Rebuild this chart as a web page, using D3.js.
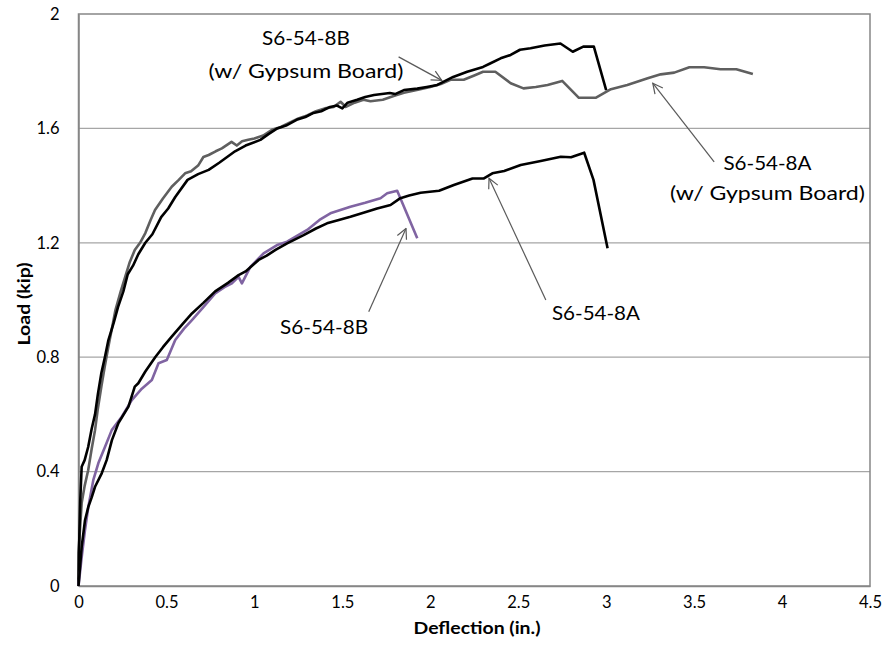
<!DOCTYPE html>
<html><head><meta charset="utf-8">
<script src="https://cdn.jsdelivr.net/npm/d3@7"></script>
<style>
body{margin:0;background:#fff;}
svg text{font-family:Lato,"Liberation Sans",sans-serif;fill:#000;}
</style></head>
<body><svg id="chart" width="888" height="663"></svg>
<script>
const xTicks=[0,0.5,1,1.5,2,2.5,3,3.5,4,4.5];
const yTicks=[0,0.4,0.8,1.2,1.6,2];
const xTitle="Deflection (in.)";
const yTitle="Load (kip)";

const seriesNames=["S6-54-8B (w/ Gypsum Board)","S6-54-8A (w/ Gypsum Board)","S6-54-8A","S6-54-8B"];
const seriesColors=["#000000","#5f5f5f","#000000","#8064a2"];

const s8BGypsum=[[0,0],[0.003,0.12],[0.005,0.18],[0.01,0.3],[0.018,0.417],[0.035,0.44],[0.055,0.486],[0.075,0.55],[0.094,0.6],[0.11,0.67],[0.13,0.745],[0.15,0.8],[0.17,0.86],[0.2,0.92],[0.225,0.976],[0.255,1.03],[0.28,1.09],[0.31,1.12],[0.34,1.16],[0.38,1.2],[0.42,1.23],[0.47,1.29],[0.51,1.32],[0.55,1.36],[0.62,1.42],[0.68,1.44],[0.74,1.455],[0.8,1.48],[0.89,1.52],[0.95,1.54],[1.034,1.56],[1.08,1.58],[1.13,1.6],[1.18,1.61],[1.24,1.63],[1.29,1.64],[1.336,1.654],[1.38,1.66],[1.43,1.675],[1.47,1.68],[1.5,1.67],[1.53,1.69],[1.584,1.7],[1.63,1.71],[1.68,1.717],[1.77,1.724],[1.8,1.72],[1.85,1.734],[1.926,1.739],[1.98,1.745],[2.04,1.752],[2.13,1.78],[2.21,1.798],[2.3,1.815],[2.34,1.827],[2.4,1.845],[2.457,1.857],[2.51,1.875],[2.57,1.88],[2.65,1.89],[2.74,1.897],[2.81,1.868],[2.87,1.886],[2.93,1.886],[3.0,1.734]];
const s8AGypsum=[[0,0],[0,0.115],[0.018,0.29],[0.035,0.35],[0.055,0.405],[0.075,0.48],[0.094,0.545],[0.11,0.62],[0.13,0.697],[0.15,0.77],[0.17,0.837],[0.19,0.9],[0.21,0.965],[0.24,1.03],[0.265,1.08],[0.29,1.13],[0.32,1.175],[0.35,1.2],[0.38,1.234],[0.41,1.28],[0.435,1.315],[0.48,1.355],[0.53,1.396],[0.57,1.42],[0.606,1.443],[0.64,1.45],[0.68,1.47],[0.71,1.5],[0.74,1.507],[0.78,1.52],[0.815,1.53],[0.87,1.553],[0.9,1.54],[0.93,1.555],[0.965,1.56],[1.0,1.565],[1.05,1.575],[1.1,1.595],[1.15,1.605],[1.2,1.62],[1.25,1.635],[1.3,1.645],[1.35,1.66],[1.4,1.67],[1.45,1.675],[1.49,1.693],[1.52,1.675],[1.57,1.69],[1.62,1.7],[1.66,1.695],[1.73,1.7],[1.8,1.715],[1.85,1.725],[1.93,1.735],[2.0,1.745],[2.06,1.755],[2.115,1.77],[2.19,1.77],[2.25,1.785],[2.3,1.798],[2.37,1.798],[2.457,1.758],[2.53,1.74],[2.6,1.745],[2.667,1.752],[2.75,1.766],[2.845,1.707],[2.94,1.707],[3.027,1.737],[3.12,1.752],[3.236,1.775],[3.31,1.789],[3.387,1.795],[3.473,1.814],[3.557,1.814],[3.65,1.807],[3.74,1.807],[3.834,1.79]];
const s8A=[[0,0],[0.018,0.137],[0.037,0.23],[0.056,0.277],[0.075,0.31],[0.094,0.347],[0.132,0.394],[0.16,0.44],[0.19,0.51],[0.227,0.57],[0.284,0.627],[0.32,0.697],[0.34,0.709],[0.38,0.75],[0.436,0.8],[0.48,0.835],[0.53,0.872],[0.59,0.915],[0.645,0.953],[0.71,0.99],[0.777,1.03],[0.85,1.06],[0.91,1.087],[0.95,1.1],[1.024,1.14],[1.07,1.155],[1.12,1.175],[1.186,1.198],[1.28,1.227],[1.35,1.25],[1.413,1.268],[1.48,1.28],[1.546,1.291],[1.62,1.305],[1.698,1.32],[1.774,1.332],[1.83,1.356],[1.88,1.365],[1.945,1.375],[2.05,1.382],[2.134,1.402],[2.24,1.425],[2.305,1.425],[2.353,1.443],[2.42,1.451],[2.514,1.472],[2.628,1.486],[2.742,1.501],[2.8,1.499],[2.875,1.515],[2.928,1.42],[3.008,1.181]];
const s8B=[[0,0],[0.018,0.1],[0.037,0.196],[0.056,0.277],[0.084,0.37],[0.113,0.43],[0.151,0.487],[0.189,0.545],[0.246,0.592],[0.303,0.65],[0.36,0.69],[0.417,0.72],[0.455,0.779],[0.502,0.79],[0.55,0.86],[0.6,0.9],[0.645,0.93],[0.71,0.975],[0.777,1.023],[0.83,1.045],[0.872,1.058],[0.91,1.081],[0.929,1.058],[0.977,1.116],[1.052,1.163],[1.129,1.192],[1.186,1.204],[1.3,1.245],[1.37,1.28],[1.432,1.303],[1.546,1.326],[1.63,1.34],[1.717,1.356],[1.755,1.373],[1.812,1.382],[1.926,1.216]];

// annotations: label lines, text anchor point (data), arrow tail & head (data)
const annLines=[["S6-54-8B","(w/ Gypsum Board)"],["S6-54-8A","(w/ Gypsum Board)"],["S6-54-8B"],["S6-54-8A"]];
const annText=[[1.293,1.8916],[3.917,1.4545],[1.396,0.881],[2.942,0.930]];
const annTail=[[1.82,1.85],[3.614,1.483],[1.65,0.959],[2.657,1.0]];
const annHead=[[2.065,1.768],[3.265,1.758],[1.862,1.25],[2.334,1.426]];

const L=78.5,R=870,T=14,B=586;
const x=d3.scaleLinear().domain([0,4.5]).range([L,R]);
const y=d3.scaleLinear().domain([0,2]).range([B,T]);
const svg=d3.select("#chart");

// gridlines
svg.append("g").selectAll("line").data(yTicks.filter(v=>v>0&&v<2)).join("line")
 .attr("x1",L).attr("x2",R).attr("y1",d=>y(d)).attr("y2",d=>y(d))
 .attr("stroke","#a6a6a6").attr("stroke-width",1.3);
// frame
svg.append("rect").attr("x",L).attr("y",T).attr("width",R-L).attr("height",B-T)
 .attr("fill","none").attr("stroke","#868686").attr("stroke-width",1.5);

const xAxis=svg.append("g").attr("transform",`translate(0,${B})`)
 .call(d3.axisBottom(x).tickValues(xTicks).tickSize(0).tickPadding(10).tickFormat(d=>String(d)));
xAxis.select(".domain").attr("stroke","#868686").attr("stroke-width",1.5);
xAxis.selectAll("text").attr("font-size","16.5px").attr("font-family","Lato,sans-serif").attr("fill","#000");
const yAxis=svg.append("g").attr("transform",`translate(${L},0)`)
 .call(d3.axisLeft(y).tickValues(yTicks).tickSize(0).tickPadding(19).tickFormat(d=>String(d)));
yAxis.select(".domain").attr("stroke","#868686").attr("stroke-width",1.5);
yAxis.selectAll("text").attr("font-size","16.5px").attr("font-family","Lato,sans-serif").attr("fill","#000");

svg.append("text").attr("x",477).attr("y",634).attr("text-anchor","middle")
 .attr("font-size","17px").attr("font-weight","bold").attr("textLength",127).attr("lengthAdjust","spacingAndGlyphs").text(xTitle);
svg.append("text").attr("transform",`translate(30,${(T+B)/2+4}) rotate(-90)`).attr("text-anchor","middle")
 .attr("font-size","17px").attr("font-weight","bold").attr("textLength",83).attr("lengthAdjust","spacingAndGlyphs").text(yTitle);

const line=d3.line().x(d=>x(d[0])).y(d=>y(d[1]));
const allSeries=[s8BGypsum,s8AGypsum,s8A,s8B];
const drawOrder=[1,0,3,2];
drawOrder.forEach(i=>{
 svg.append("path").datum(allSeries[i]).attr("d",line).attr("fill","none")
  .attr("stroke",seriesColors[i]).attr("stroke-width",2.6).attr("stroke-linejoin","round");
});

// arrows
svg.append("defs").append("marker").attr("id","arr").attr("viewBox","0 0 12 12")
 .attr("refX",11).attr("refY",6).attr("markerWidth",12).attr("markerHeight",12)
 .attr("markerUnits","userSpaceOnUse").attr("orient","auto")
 .append("path").attr("d","M1,1 L11,6 L1,11").attr("fill","none").attr("stroke","#595959").attr("stroke-width",1.2);
annTail.forEach((t,i)=>{
 svg.append("line").attr("x1",x(t[0])).attr("y1",y(t[1])).attr("x2",x(annHead[i][0])).attr("y2",y(annHead[i][1]))
  .attr("stroke","#595959").attr("stroke-width",1.2).attr("marker-end","url(#arr)");
});
annLines.forEach((ls,i)=>{
 ls.forEach((s,j)=>{
  const w=s.length>10?195:88;
  svg.append("text").attr("x",x(annText[i][0])).attr("y",y(annText[i][1])+j*(i===0?33:30))
   .attr("text-anchor","middle").attr("font-size","20px")
   .attr("textLength",w).attr("lengthAdjust","spacingAndGlyphs").text(s);
 });
});
</script></body></html>
